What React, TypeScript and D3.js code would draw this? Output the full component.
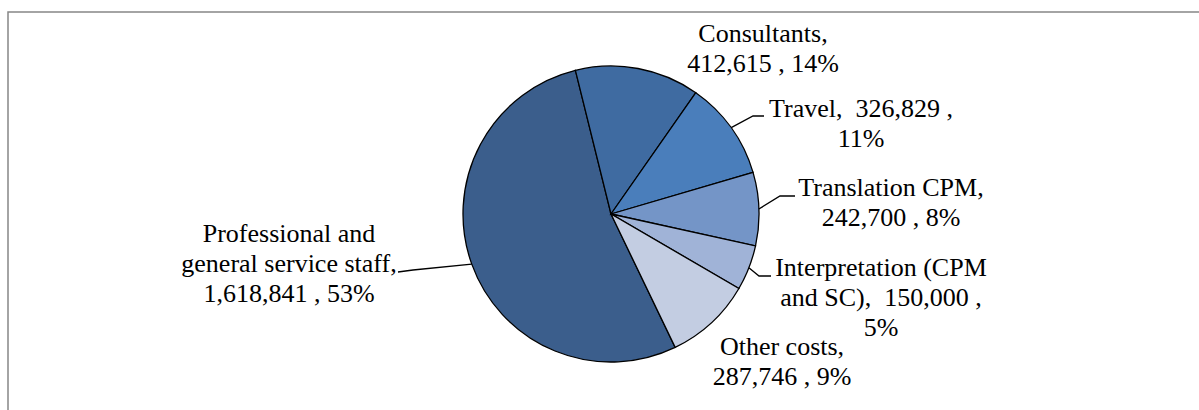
import * as d3 from 'd3'

const categories = [
  'Professional and general service staff',
  'Consultants',
  'Travel',
  'Translation CPM',
  'Interpretation (CPM and SC)',
  'Other costs',
]
const values = [1618841, 412615, 326829, 242700, 150000, 287746]
const colors = ['#3b5e8c', '#3f6ba1', '#4a7ebb', '#7495c7', '#a0b3d7', '#c3cde2']

// label text as it wraps in the chart
const labelLines = [
  ['Professional and', 'general service staff,', '1,618,841 , 53%'],
  ['Consultants,', '412,615 , 14%'],
  ['Travel,  326,829 ,', '11%'],
  ['Translation CPM,', '242,700 , 8%'],
  ['Interpretation (CPM', 'and SC),  150,000 ,', '5%'],
  ['Other costs,', '287,746 , 9%'],
]

// label layout: text centre, first baseline, leader elbow and end (null = no leader)
const labelLayout = [
  { x: 289, y: 242, elbow: [413, 270], end: [398, 272] },
  { x: 763, y: 42, elbow: null, end: null },
  { x: 861, y: 117, elbow: [753, 116], end: [764, 116] },
  { x: 891, y: 196, elbow: [780, 196], end: [795, 196] },
  { x: 881, y: 276, elbow: [759, 276], end: [771, 276] },
  { x: 782, y: 355, elbow: null, end: null },
]

const W = 1199
const H = 410
const cx = 611
const cy = 214
const R = 148
const lineH = 30
const startDeg = 154.3

export default function App() {
  const pie = d3
    .pie<number>()
    .sort(null)
    .value((d) => d)
    .startAngle((startDeg * Math.PI) / 180)
    .endAngle((startDeg * Math.PI) / 180 + 2 * Math.PI)
  const arcs = pie(values)
  const arcGen = d3.arc<d3.PieArcDatum<number>>().innerRadius(0).outerRadius(R)
  const edge = d3.arc<d3.PieArcDatum<number>>().innerRadius(R).outerRadius(R)

  return (
    <svg
      width={W}
      height={H}
      style={{ position: 'absolute', left: 0, top: 0, background: '#fff' }}
    >
      <rect x={8} y={12} width={1400} height={600} fill="none" stroke="#878787" strokeWidth={1.5} />
      <g transform={`translate(${cx},${cy})`}>
        {arcs.map((a, i) => (
          <path key={categories[i]} d={arcGen(a) || ''} fill={colors[i]} stroke="#000" strokeWidth={1.3} />
        ))}
      </g>
      {arcs.map((a, i) => {
        const lay = labelLayout[i]
        if (!lay.elbow || !lay.end) return null
        const [ex, ey] = edge.centroid(a)
        const pts: [number, number][] = [[cx + ex, cy + ey], lay.elbow as [number, number], lay.end as [number, number]]
        return (
          <path key={'l' + i} d={d3.line()(pts) || ''} fill="none" stroke="#000" strokeWidth={1.3} />
        )
      })}
      {labelLines.map((lines, i) => (
        <text
          key={'t' + i}
          fill="#000"
          textAnchor="middle"
          style={{ whiteSpace: 'pre', fontFamily: 'Liberation Serif, Times New Roman, serif', fontSize: '26px' }}
        >
          {lines.map((ln, j) => (
            <tspan key={j} x={labelLayout[i].x} y={labelLayout[i].y + j * lineH}>
              {ln}
            </tspan>
          ))}
        </text>
      ))}
    </svg>
  )
}
